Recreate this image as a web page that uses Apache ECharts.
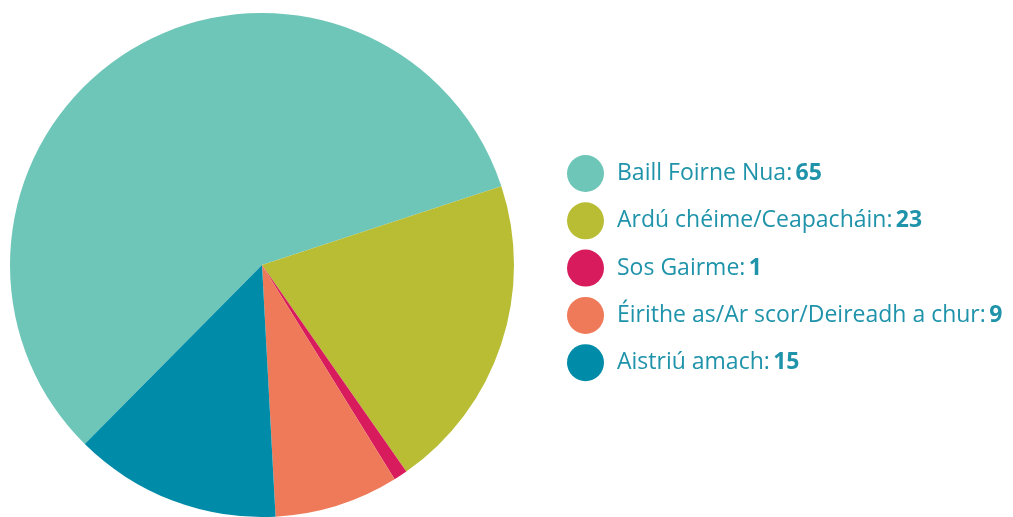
<!DOCTYPE html>
<html><head><meta charset="utf-8">
<script src="https://cdn.jsdelivr.net/npm/echarts@6/dist/echarts.min.js"></script>
<style>html,body{margin:0;padding:0;background:#fff}#c{width:1013px;height:517px}</style>
</head><body><div id="c"></div>
<script>
const categories = ['Baill Foirne Nua', 'Ardú chéime/Ceapacháin', 'Sos Gairme', 'Éirithe as/Ar scor/Deireadh a chur', 'Aistriú amach'];
const values = [65, 23, 1, 9, 15];
const colors = ['#6ec6b8', '#b9bd34', '#d81b5c', '#ef7a59', '#008ca8'];

const chart = echarts.init(document.getElementById('c'));
const valueByName = {};
categories.forEach((c, i) => valueByName[c] = values[i]);
chart.setOption({
  animation: false,
  color: colors,
  legend: {
    orient: 'vertical',
    left: 562,
    top: 150,
    icon: 'circle',
    itemWidth: 37,
    itemHeight: 37,
    itemGap: 10.3,
    selectedMode: false,
    formatter: name => '{n|' + name + ':} {v|' + valueByName[name] + '}',
    textStyle: {
      padding: [0, 0, 0, 8],
      rich: {
        n: { fontFamily: 'Open Sans', fontSize: 23, color: '#1f93aa' },
        v: { fontFamily: 'Open Sans', fontSize: 23, fontWeight: 'bold', color: '#1f93aa' }
      }
    }
  },
  series: [{
    type: 'pie',
    center: [262, 265],
    radius: 252,
    startAngle: 225.3,
    clockwise: true,
    label: { show: false },
    labelLine: { show: false },
    itemStyle: { borderWidth: 0 },
    emphasis: { disabled: true },
    data: categories.map((c, i) => ({ name: c, value: values[i] }))
  }]
});
</script></body></html>
